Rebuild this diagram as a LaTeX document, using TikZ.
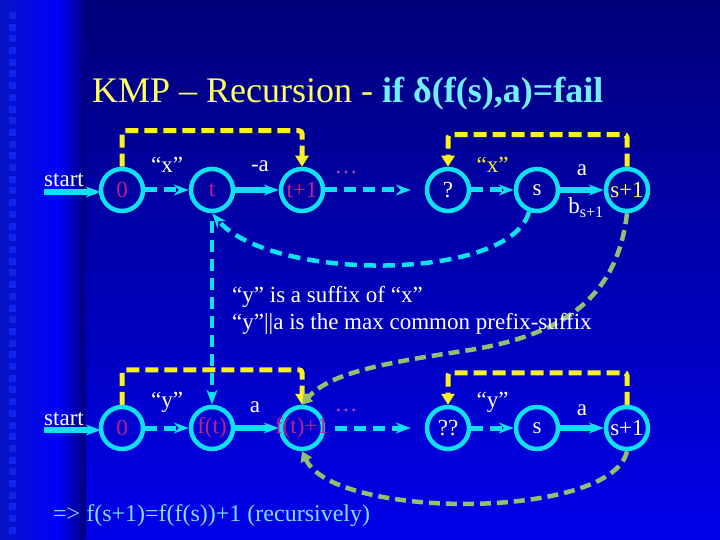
\documentclass[tikz,border=0pt]{standalone}
\usepackage{fontspec}
\setmainfont{Liberation Serif}
\usetikzlibrary{arrows.meta, calc, positioning}
\pgfdeclarelayer{bg}
\pgfdeclarelayer{edges}
\pgfsetlayers{bg,edges,main}
\definecolor{bgtop}{HTML}{00007A}
\definecolor{bgbot}{HTML}{0000EA}
\definecolor{stripl}{HTML}{0614C4}
\definecolor{stripm}{HTML}{0000FA}
\definecolor{stripr}{HTML}{00007C}
\definecolor{stripdot}{HTML}{1024EC}
\definecolor{kcyan}{HTML}{10E0F4}
\definecolor{kyellow}{HTML}{F8F020}
\definecolor{kgreen}{HTML}{90C070}
\definecolor{kred}{HTML}{C0208A}
\definecolor{kdots}{HTML}{C040C0}
\definecolor{ktitle}{HTML}{FFFF60}
\definecolor{ktitlec}{HTML}{70F0FF}
\definecolor{knote}{HTML}{80E0FF}
\tikzset{
  % automaton state
  state/.style={circle, draw=kcyan, line width=4.5pt, minimum size=42pt,
    inner sep=0pt, font=\fontsize{23}{26}\selectfont},
  % transitions
  trans/.style={-{Stealth[length=15pt, width=11pt, inset=5pt]}, line width=5.5pt, kcyan},
  transdash/.style={trans, line width=5pt, dash pattern=on 12pt off 7pt},
  % failure links
  failyel/.style={-{Triangle[length=11pt, width=13pt]}, line width=5pt, kyellow,
    dash pattern=on 13pt off 6pt, rounded corners=3pt},
  failgreen/.style={-{Triangle[length=10pt, width=12pt]}, line width=4.5pt, kgreen,
    dash pattern=on 11pt off 6pt},
  % labels
  lbl/.style={font=\fontsize{23}{26}\selectfont, white, inner sep=0pt},
  dots/.style={font=\fontsize{23}{26}\selectfont, kdots, inner sep=0pt, anchor=base},
}
\begin{document}
\begin{tikzpicture}[x=1pt, y=-1pt]
  % background
  \useasboundingbox (0,0) rectangle (720,540);
  \begin{pgfonlayer}{bg}
    \shade[top color=bgtop, bottom color=bgbot] (85,0) rectangle (720,540);
    \shade[left color=stripl, right color=stripm] (0,0) rectangle (58,540);
    \shade[left color=stripm, right color=stripr] (58,0) rectangle (85.5,540);
    \foreach \k in {0,...,44}
      \fill[stripdot] (9,12+11.7*\k) rectangle (16,19+11.7*\k);
  \end{pgfonlayer}

  % title
  \node[anchor=base west, inner sep=0pt, font=\fontsize{36}{40}\selectfont] (title) at (92,103)
    {\textcolor{ktitle}{KMP – Recursion -} \textcolor{ktitlec}{\textbf{if δ(f(s),a)=fail}}};

  % upper automaton
  \node[state, text=kred] (n0) at (122,190) {0};
  \node[state, text=kred] (nt) at (212,190) {t};
  \node[state, text=kred] (nt1) at (302,190) {t+1};
  \node[state, text=white] (q) at (448,190) {?};
  \node[state, text=white] (s) at (537,190) {s};
  \node[state, text=ktitle] (s1) at (627,190) {s+1};
  \coordinate (st1) at (44,192);
  \node[lbl, anchor=base west] (start1) at (44,187) {start};
  \node[dots] (dots1) at (346,174) {…};
  \begin{pgfonlayer}{edges}
    \draw[trans, shorten >=-2pt] (st1) -- (n0.west |- st1);
    \draw[transdash] (n0) -- node[lbl, above=15pt] {“x”} (nt);
    \draw[trans] (nt) -- node[lbl, above=16pt, xshift=3pt] {-a} (nt1);
    \draw[transdash, shorten >=14pt] (nt1) -- (q);
    \draw[transdash] (q) -- node[lbl, above=15pt, text=kyellow] {“x”} (s);
    \draw[trans] (s) -- node[lbl, above=12pt] {a} node[lbl, below=5pt, xshift=4pt] {b\textsubscript{s+1}} (s1);
    \draw[failyel] (n0.north) -- ++(0,-36) -| (nt1.north);
    \draw[failyel] (s1.north) -- ++(0,-32) -| (q.north);
    \draw[transdash, line width=4.5pt] (s.250) .. controls (510,282) and (270,282) .. (nt.south);
  \end{pgfonlayer}

  % text
  \node[lbl, anchor=base west] (note1) at (232,302) {“y” is a suffix of “x”};
  \node[lbl, anchor=base west] (note2) at (232,329) {“y”||a is the max common prefix-suffix};

  % lower automaton
  \node[state, text=kred] (m0) at (122,428) {0};
  \node[state, text=kred] (ft) at (212,428) {f(t)};
  \node[state, text=kred] (ft1) at (302,428) {\makebox[0pt]{f(t)+1}};
  \node[state, text=white] (qq) at (448,428) {??};
  \node[state, text=white] (sb) at (537,428) {s};
  \node[state, text=white] (s1b) at (627,428) {s+1};
  \coordinate (st2) at (44,430);
  \node[lbl, anchor=base west] (start2) at (44,425) {start};
  \node[dots] (dots2) at (346,411) {…};
  \begin{pgfonlayer}{edges}
    \draw[trans, shorten >=-2pt] (st2) -- (m0.west |- st2);
    \draw[transdash] (m0) -- node[lbl, above=13pt] {“y”} (ft);
    \draw[trans] (ft) -- node[lbl, above=13pt, xshift=-2pt] {a} (ft1);
    \draw[transdash, shorten >=14pt, shorten <=10pt] (ft1) -- (qq);
    \draw[transdash] (qq) -- node[lbl, above=13pt] {“y”} (sb);
    \draw[trans] (sb) -- node[lbl, above=10pt] {a} (s1b);
    \draw[failyel] (m0.north) -- ++(0,-35) -| (ft1.north);
    \draw[failyel] (s1b.north) -- ++(0,-32) -| (qq.north);

    % links between the two automata
    \draw[transdash, line width=4.5pt, shorten <=8pt] (nt.south) -- (ft.north);
    \draw[failgreen] (s1.south) .. controls (617,300) and (560,335) .. (470,350)
      .. controls (390,362) and (330,372) .. (ft1.north);
    \draw[failgreen] (s1b.south) .. controls (612,520) and (335,520) .. (ft1.south);
  \end{pgfonlayer}

  % conclusion
  \node[anchor=base west, inner sep=0pt, text=knote, font=\fontsize{24}{28}\selectfont] (concl) at (53,521)
    {=> f(s+1)=f(f(s))+1 (recursively)};
\end{tikzpicture}
\end{document}
